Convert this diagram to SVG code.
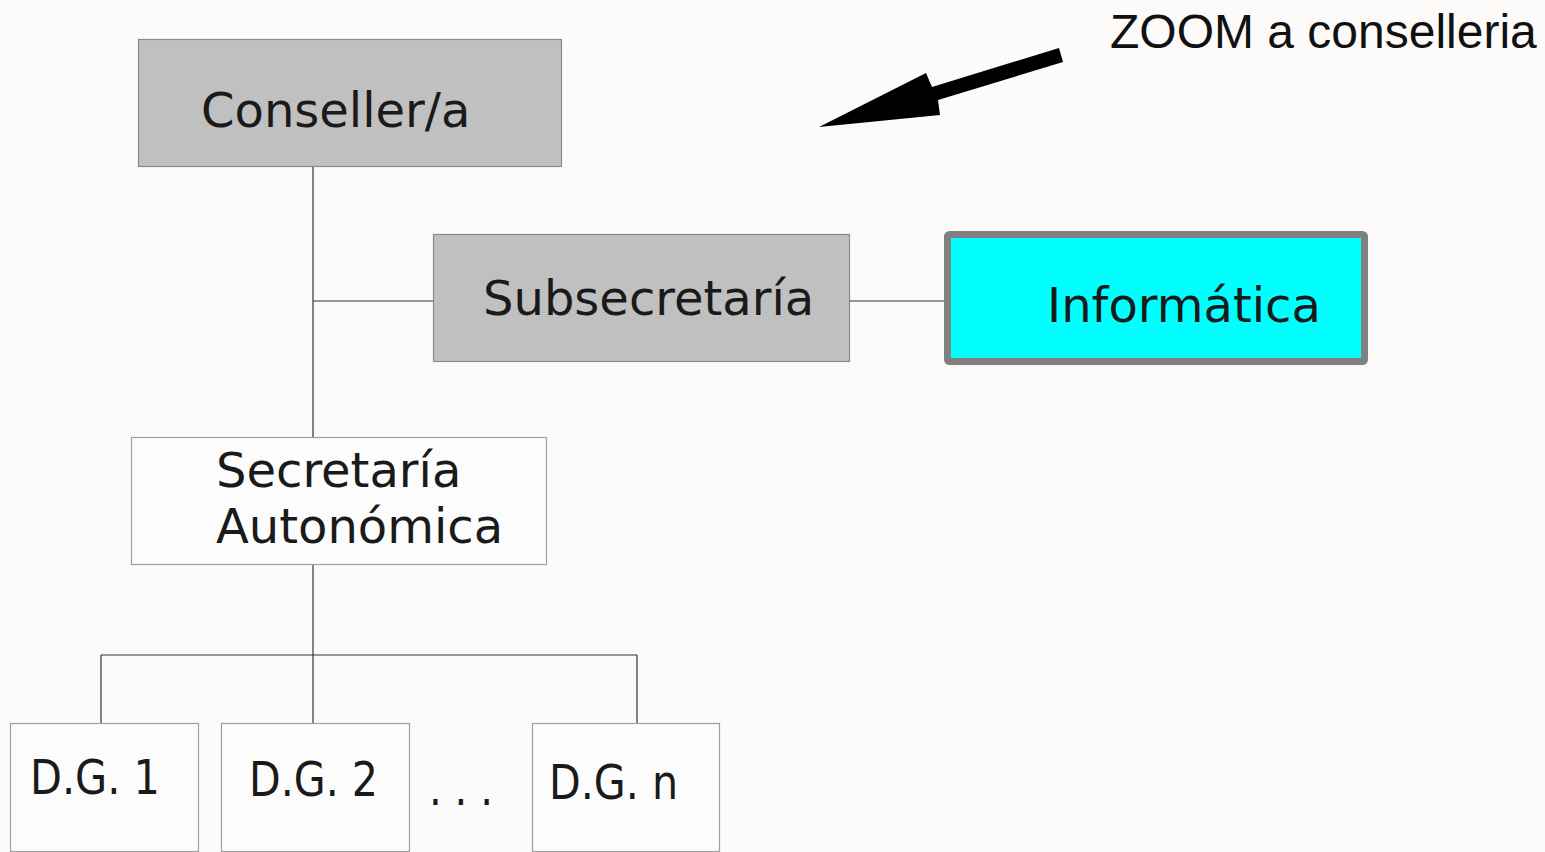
<svg xmlns="http://www.w3.org/2000/svg" width="1545" height="852" viewBox="0 0 1545 852">
<style>
.box{stroke:#8a8a8a;stroke-width:1.2}
.grey{fill:#c0c0c0}
.white{fill:#fcfcfc;stroke:#a0a0a0}
.lbl{font-family:"DejaVu Sans",sans-serif;font-size:48px;fill:#1a1a1a}
.conn{stroke:#333;stroke-width:1.2;fill:none}
</style>
<rect width="1545" height="852" fill="#fdfbfa"/>
<g id="connectors">
<path class="conn" d="M313 166V437M313 301H433M849 301H944M313 565V723M101 655H637M101 655V723M637 655V723"/>
</g>
<g id="conseller">
<rect class="box grey" x="138.5" y="39.5" width="423" height="127"/>
<text class="lbl" x="201" y="127">Conseller/a</text>
</g>
<g id="subsecretaria">
<rect class="box grey" x="433.5" y="234.5" width="416" height="127"/>
<text class="lbl" x="483" y="315">Subsecretaría</text>
</g>
<g id="informatica">
<rect x="947.5" y="234.5" width="417" height="127" rx="2" fill="#00ffff" stroke="#808080" stroke-width="7"/>
<text class="lbl" x="1047" y="322">Informática</text>
</g>
<g id="secretaria">
<rect class="box white" x="131.5" y="437.5" width="415" height="127"/>
<text class="lbl" x="216" y="487">Secretaría</text>
<text class="lbl" x="216" y="543">Autonómica</text>
</g>
<g id="dg1">
<rect class="box white" x="10.5" y="723.5" width="188" height="128"/>
<text class="lbl" x="30" y="794" textLength="130" lengthAdjust="spacingAndGlyphs">D.G. 1</text>
</g>
<g id="dg2">
<rect class="box white" x="221.5" y="723.5" width="188" height="128"/>
<text class="lbl" x="249" y="796" textLength="129" lengthAdjust="spacingAndGlyphs">D.G. 2</text>
</g>
<g id="dots">
<text class="lbl" x="429" y="805" textLength="64" lengthAdjust="spacingAndGlyphs">. . .</text>
</g>
<g id="dgn">
<rect class="box white" x="532.5" y="723.5" width="187" height="128"/>
<text class="lbl" x="549" y="799" textLength="129" lengthAdjust="spacingAndGlyphs">D.G. n</text>
</g>
<g id="zoom-note">
<polygon points="819,127 926,73 932,87 1059,48 1063,62 938,100 940,115" fill="#000"/>
<text x="1110" y="48" font-family="'Liberation Sans',Arial,sans-serif" font-size="48" fill="#111">ZOOM a conselleria</text>
</g>
</svg>
